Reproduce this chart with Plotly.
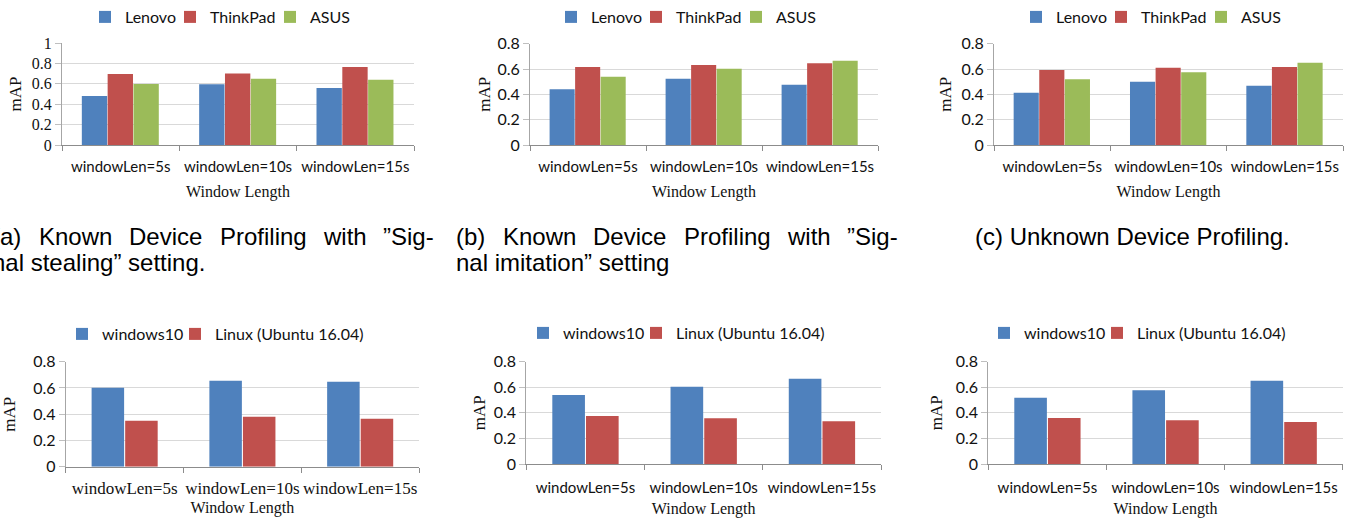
import plotly.graph_objects as go

W, H = 1359, 521

categories = ["windowLen=5s", "windowLen=10s", "windowLen=15s"]

# (a) Known device, signal stealing
a_lenovo = [0.48, 0.595, 0.56]
a_thinkpad = [0.695, 0.70, 0.765]
a_asus = [0.598, 0.65, 0.64]
# (b) Known device, signal imitation
b_lenovo = [0.44, 0.524, 0.476]
b_thinkpad = [0.616, 0.632, 0.645]
b_asus = [0.539, 0.603, 0.666]
# (c) Unknown device
c_lenovo = [0.413, 0.50, 0.468]
c_thinkpad = [0.592, 0.61, 0.616]
c_asus = [0.519, 0.574, 0.65]
# bottom row: OS comparison
d_win = [0.602, 0.655, 0.648]
d_linux = [0.35, 0.381, 0.366]
e_win = [0.54, 0.605, 0.667]
e_linux = [0.375, 0.357, 0.334]
f_win = [0.518, 0.576, 0.651]
f_linux = [0.36, 0.342, 0.328]

device_names = ["Lenovo", "ThinkPad", "ASUS"]
os_names = ["windows10", "Linux (Ubuntu 16.04)"]

caption_a = ["(a) Known Device Profiling with ”Sig-", "nal stealing” setting."]
caption_b = ["(b) Known Device Profiling with ”Sig-", "nal imitation” setting"]
caption_c = "(c) Unknown Device Profiling."

BLUE, RED, GREEN = "#4F81BD", "#C0504D", "#9BBB59"
SERIF = "Liberation Serif"
SANS = "Lato"


def fx(p):
    return p / W


def fy(p):
    return 1 - p / H


panels = [
    dict(x0=62, x1=414, yt=43, yb=145, ymax=1.0, yfont=(SERIF, 16), xfont=(SANS, 15),
         lx=85, ltop=0, ystand=5, lstand=8, tstand=11),
    dict(x0=530, x1=878, yt=43.7, yb=145, ymax=0.8, yfont=(SANS, 16), xfont=(SANS, 15),
         lx=551, ltop=0, ystand=2, lstand=8, tstand=11),
    dict(x0=994, x1=1343, yt=43.7, yb=145, ymax=0.8, yfont=(SANS, 16), xfont=(SANS, 15),
         lx=1016, ltop=0, ystand=5, lstand=8, tstand=11),
    dict(x0=65.7, x1=419, yt=361.7, yb=466.7, ymax=0.8, yfont=(SANS, 16), xfont=(SERIF, 17),
         lx=62, ltop=317, ystand=13, lstand=6, tstand=4),
    dict(x0=526.3, x1=881, yt=361.7, yb=464, ymax=0.8, yfont=(SANS, 16), xfont=(SANS, 15),
         lx=523, ltop=316, ystand=3, lstand=10, tstand=7),
    dict(x0=988.3, x1=1342.7, yt=361.7, yb=464, ymax=0.8, yfont=(SANS, 16), xfont=(SANS, 15),
         lx=984, ltop=316, ystand=8, lstand=10, tstand=7),
]

series = [
    [a_lenovo, a_thinkpad, a_asus],
    [b_lenovo, b_thinkpad, b_asus],
    [c_lenovo, c_thinkpad, c_asus],
    [d_win, d_linux],
    [e_win, e_linux],
    [f_win, f_linux],
]

fig = go.Figure()
layout = {}

for i, (p, ser) in enumerate(zip(panels, series)):
    n = i + 1
    sfx = "" if n == 1 else str(n)
    xref, yref = "x" + sfx, "y" + sfx
    legname = "legend" + sfx
    if len(ser) == 3:
        names = device_names
        colors = [BLUE, RED, GREEN]
        width = 0.216
        offsets = [-0.331, -0.111, 0.109]
        lwidths = [40, 55, None]
    else:
        names = os_names
        colors = [BLUE, RED]
        width = 0.276
        offsets = [-0.28, 0.005]
        lwidths = [68, None]
    for vals, name, col, off, lw in zip(ser, names, colors, offsets, lwidths):
        kw = {} if lw is None else dict(legendwidth=lw)
        fig.add_trace(go.Bar(
            x=categories, y=vals, name=name, marker_color=col,
            marker_line_width=0, width=width, offset=off,
            xaxis=xref, yaxis=yref, legend=legname, **kw,
        ))
    layout["xaxis" + sfx] = dict(
        domain=[fx(p["x0"]), fx(p["x1"])], anchor=yref, type="category",
        range=[-0.5, 2.5], showline=True, linecolor="#8c8c8c", linewidth=1,
        ticks="outside", tickson="boundaries", ticklen=5, tickcolor="#8c8c8c",
        tickangle=0,
        tickfont=dict(family=p["xfont"][0], size=p["xfont"][1], color="#111"),
        ticklabelstandoff=p["lstand"],
        showgrid=False, automargin=False, fixedrange=True,
        title=dict(text="Window Length", font=dict(family=SERIF, size=16, color="#111"),
                   standoff=p["tstand"]),
    )
    layout["yaxis" + sfx] = dict(
        domain=[fy(p["yb"]), fy(p["yt"])], anchor=xref,
        range=[0, p["ymax"]], dtick=0.2, tick0=0,
        showline=True, linecolor="#a6a6a6", linewidth=1,
        ticks="outside", ticklen=6, tickcolor="#bfbfbf",
        showgrid=True, gridcolor="#d9d9d9", gridwidth=1,
        zeroline=False,
        tickfont=dict(family=p["yfont"][0], size=p["yfont"][1], color="#111"),
        automargin=False, fixedrange=True,
        title=dict(text="mAP", font=dict(family=SERIF, size=17, color="#111"), standoff=p["ystand"]),
    )
    layout[legname] = dict(
        orientation="h", x=fx(p["lx"]), y=fy(p["ltop"]), xanchor="left", yanchor="top",
        xref="paper", yref="paper",
        font=dict(family=SANS, size=16, color="#111"), bgcolor="rgba(0,0,0,0)",
    )

# --- captions (first lines justified like the LaTeX source) ---
CAP_SIZE = 24
HELV = {'(': .333, ')': .333, 'a': .556, 'b': .556, 'c': .5, 'K': .667, 'n': .556,
        'o': .556, 'w': .722, 'D': .722, 'e': .556, 'v': .5, 'i': .222, 'P': .667,
        'r': .333, 'f': .278, 'l': .222, 'g': .556, 't': .278, 'h': .556, '”': .333,
        'S': .667, '-': .333, ' ': .278}


def text_w(s):
    return sum(HELV.get(ch, .55) for ch in s) * CAP_SIZE


cap_font = dict(family="Liberation Sans", size=CAP_SIZE, color="#000")
annotations = []


def justified(line, left, right, y):
    words = line.split(" ")
    total = sum(text_w(wd) for wd in words)
    gap = (right - left - total) / (len(words) - 1)
    x = left
    for wd in words:
        annotations.append(dict(text=wd, x=fx(x), y=fy(y), xref="paper", yref="paper",
                                xanchor="left", yanchor="middle", showarrow=False,
                                borderpad=0, font=cap_font))
        x += text_w(wd) + gap


def plain(line, x, y, anchor="left"):
    annotations.append(dict(text=line, x=fx(x), y=fy(y), xref="paper", yref="paper",
                            xanchor=anchor, yanchor="middle", showarrow=False,
                            borderpad=0, font=cap_font))


justified(caption_a[0], -9, 433, 237)
plain(caption_a[1], -9, 262)
justified(caption_b[0], 455, 897, 237)
plain(caption_b[1], 455, 262)
plain(caption_c, 1132, 237, "center")

fig.update_layout(
    width=W, height=H, margin=dict(l=0, r=0, t=0, b=0),
    paper_bgcolor="white", plot_bgcolor="white",
    barmode="group", showlegend=True, annotations=annotations,
    **layout,
)

fig.write_html("out.html", config={"displayModeBar": False},
               post_script="document.body.style.margin='0px';")
